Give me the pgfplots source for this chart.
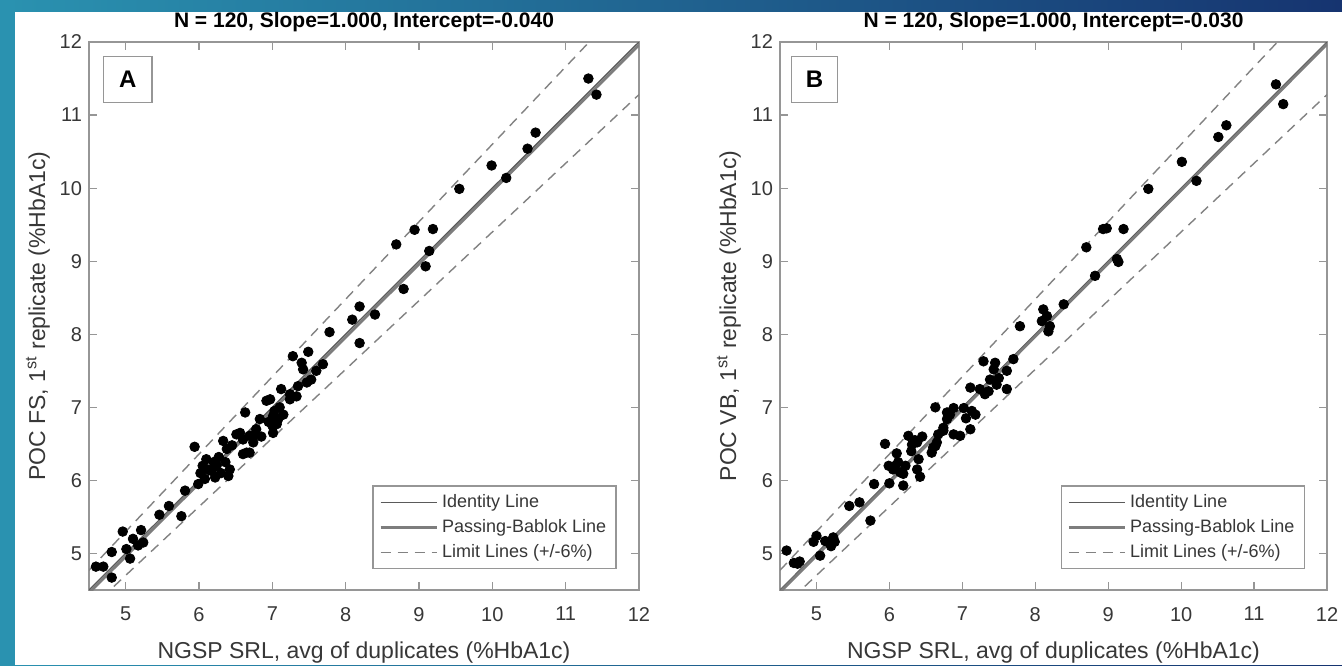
\documentclass[border=0pt]{standalone}
\usepackage{pgfplots}
\pgfplotsset{compat=1.18}
\usepackage{pgfplotstable}
\usepackage{fontspec}
\setmainfont{Liberation Sans}
\definecolor{bgteal}{RGB}{42,146,176}
\definecolor{bgnavy}{RGB}{22,52,112}
\definecolor{axgray}{RGB}{150,150,150}
\definecolor{txtgray}{RGB}{55,55,55}
\definecolor{idgray}{RGB}{90,90,90}
\definecolor{pbgray}{RGB}{125,125,125}
\definecolor{limgray}{RGB}{130,130,130}

\pgfplotstableread{
x y
4.595 4.82
4.695 4.82
4.81 4.67
4.81 5.02
4.96 5.30
5.01 5.06
5.06 4.93
5.10 5.20
5.17 5.11
5.21 5.32
5.24 5.15
5.46 5.53
5.59 5.65
5.76 5.51
5.81 5.86
5.94 6.46
5.99 5.95
6.02 6.10
6.05 6.20
6.08 6.02
6.10 6.29
6.12 6.15
6.17 6.13
6.20 6.25
6.22 6.04
6.24 6.20
6.27 6.32
6.30 6.10
6.33 6.54
6.36 6.25
6.38 6.43
6.40 6.06
6.42 6.15
6.45 6.48
6.51 6.63
6.56 6.65
6.60 6.36
6.60 6.56
6.63 6.93
6.65 6.38
6.69 6.38
6.69 6.61
6.74 6.52
6.74 6.61
6.78 6.70
6.83 6.84
6.85 6.60
6.92 7.09
6.95 6.80
6.97 7.11
7.00 6.75
7.01 6.88
7.01 6.65
7.03 6.95
7.06 6.77
7.08 6.84
7.10 7.00
7.12 7.25
7.15 6.90
7.24 7.18
7.24 7.11
7.28 7.70
7.33 7.15
7.35 7.29
7.40 7.61
7.42 7.52
7.47 7.34
7.49 7.76
7.53 7.38
7.60 7.50
7.69 7.59
7.78 8.03
8.09 8.20
8.19 8.38
8.19 7.88
8.40 8.27
8.69 9.23
8.79 8.62
8.94 9.43
9.09 8.93
9.14 9.14
9.19 9.44
9.55 9.99
9.99 10.31
10.19 10.14
10.48 10.54
10.59 10.76
11.31 11.50
11.42 11.28
}\dataA

\pgfplotstableread{
x y
4.59 5.04
4.69 4.87
4.77 4.89
4.74 4.86
4.96 5.16
5.00 5.24
5.05 4.97
5.12 5.17
5.19 5.15
5.23 5.22
5.25 5.16
5.20 5.10
5.45 5.65
5.59 5.70
5.74 5.45
5.79 5.95
5.94 6.50
5.99 6.20
6.00 5.96
6.05 6.15
6.08 6.20
6.10 6.37
6.12 6.25
6.15 6.11
6.19 6.09
6.19 5.93
6.22 6.20
6.26 6.61
6.30 6.40
6.31 6.49
6.35 6.55
6.38 6.52
6.38 6.15
6.40 6.29
6.42 6.05
6.45 6.60
6.58 6.38
6.60 6.45
6.63 6.47
6.63 7.00
6.65 6.52
6.67 6.63
6.74 6.68
6.74 6.72
6.79 6.93
6.79 6.84
6.83 6.90
6.88 6.99
6.88 6.63
6.97 6.61
7.02 6.99
7.05 6.85
7.11 6.70
7.11 7.27
7.13 6.95
7.18 6.90
7.24 7.25
7.29 7.63
7.31 7.18
7.36 7.22
7.38 7.38
7.43 7.52
7.45 7.61
7.47 7.31
7.50 7.40
7.61 7.50
7.61 7.25
7.70 7.66
7.79 8.11
8.09 8.18
8.11 8.34
8.16 8.25
8.18 8.04
8.20 8.11
8.39 8.41
8.70 9.19
8.82 8.80
8.93 9.44
8.98 9.45
9.12 9.03
9.14 8.99
9.21 9.44
9.55 9.99
10.01 10.36
10.21 10.10
10.51 10.70
10.62 10.86
11.30 11.42
11.40 11.15
}\dataB

\pgfplotsset{
  mcstyle/.style={
    scale only axis,
    height=274pt,
    xmin=4.5, xmax=12, ymin=4.5, ymax=12,
    xtick={5,6,...,12}, ytick={5,6,...,12},
    axis line style={axgray, line width=0.9pt},
    tick style={axgray, line width=0.6pt},
    major tick length=4pt,
    tick align=inside,
    xtick pos=both, ytick pos=both,
    /pgf/number format/assume math mode=true,
    ticklabel style={font=\fontsize{10}{12}\selectfont, text=txtgray},
    xticklabel style={yshift=-5pt},
    label style={font=\fontsize{11.5}{14}\selectfont, text=txtgray},
    title style={font=\fontsize{10.5}{12}\selectfont\bfseries, yshift=-4.5pt},
    xlabel style={yshift=-3.5pt},
    ylabel style={yshift=-2pt},
    legend style={at={(0.96,0.038)}, anchor=south east, draw=axgray, line width=0.8pt,
      font=\fontsize{9}{10.5}\selectfont, text=txtgray, inner xsep=3pt, inner ysep=2pt,
      row sep=0.5pt, cells={anchor=west}},
    legend image code/.code={\draw[#1] (0pt,0pt) -- (28pt,0pt);},
    legend cell align=left,
  }
}

\begin{document}
\begin{tikzpicture}
\useasboundingbox (0pt,0pt) rectangle (671pt,332.5pt);
\shade[left color=bgteal, right color=bgnavy] (0pt,0pt) rectangle (671pt,332.5pt);
\fill[bgteal] (0pt,0pt) rectangle (7.5pt,332.5pt);
\fill[white] (7.5pt,0pt) rectangle (671pt,326.5pt);

\begin{axis}[mcstyle, width=275pt, at={(44.5pt,37.5pt)}, anchor=south west,
  title={N = 120, Slope=1.000, Intercept=-0.040},
  xlabel={NGSP SRL, avg of duplicates (\%HbA1c)},
  ylabel={POC FS, 1\textsuperscript{st} replicate (\%HbA1c)}]
\addplot[idgray, line width=0.7pt] coordinates {(4.5,4.5) (12,12)};
\addlegendentry{Identity Line}
\addplot[pbgray, line width=1.4pt] coordinates {(4.5,4.46) (12,11.96)};
\addlegendentry{Passing-Bablok Line}
\addplot[limgray, line width=0.7pt, dash pattern=on 5pt off 3.5pt] coordinates {(4.5,4.77) (12,12.72)};
\addlegendentry{Limit Lines (+/-6\%)}
\addplot[limgray, line width=0.7pt, dash pattern=on 5pt off 3.5pt, forget plot] coordinates {(4.5,4.23) (12,11.28)};
\addplot[only marks, mark=*, mark size=2.4pt, black, forget plot] table[x=x,y=y] {\dataA};
\draw[axgray, line width=0.8pt, fill=white] (axis cs:4.70,11.17) rectangle (axis cs:5.36,11.80);
\node[font=\fontsize{12}{14}\selectfont\bfseries] at (axis cs:5.03,11.485) {A};
\end{axis}

\begin{axis}[mcstyle, width=273.5pt, at={(390pt,37.5pt)}, anchor=south west,
  title={N = 120, Slope=1.000, Intercept=-0.030},
  xlabel={NGSP SRL, avg of duplicates (\%HbA1c)},
  ylabel={POC VB, 1\textsuperscript{st} replicate (\%HbA1c)}]
\addplot[idgray, line width=0.7pt] coordinates {(4.5,4.5) (12,12)};
\addlegendentry{Identity Line}
\addplot[pbgray, line width=1.4pt] coordinates {(4.5,4.47) (12,11.97)};
\addlegendentry{Passing-Bablok Line}
\addplot[limgray, line width=0.7pt, dash pattern=on 5pt off 3.5pt] coordinates {(4.5,4.77) (12,12.72)};
\addlegendentry{Limit Lines (+/-6\%)}
\addplot[limgray, line width=0.7pt, dash pattern=on 5pt off 3.5pt, forget plot] coordinates {(4.5,4.23) (12,11.28)};
\addplot[only marks, mark=*, mark size=2.4pt, black, forget plot] table[x=x,y=y] {\dataB};
\draw[axgray, line width=0.8pt, fill=white] (axis cs:4.66,11.17) rectangle (axis cs:5.29,11.80);
\node[font=\fontsize{12}{14}\selectfont\bfseries] at (axis cs:4.975,11.485) {B};
\end{axis}
\end{tikzpicture}
\end{document}
